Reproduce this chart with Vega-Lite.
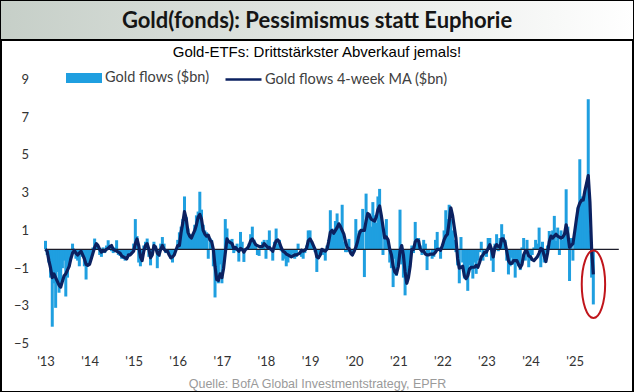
{
  "$schema": "https://vega.github.io/schema/vega-lite/v6.json",
  "padding": 0,
  "spacing": -2,
  "background": "white",
  "config": {
    "view": {"stroke": "black", "strokeWidth": 2},
    "axis": {"grid": false, "domain": false, "ticks": false, "tickSize": 0}
  },
  "resolve": {"scale": {"fill": "independent", "stroke": "independent"}, "legend": {"fill": "independent", "stroke": "independent"}},
  "datasets": {
    "g": [
      {"d":"2013-01-01","f":0.45,"m":0},{"d":"2013-01-15","f":-0.3,"m":-0.1},{"d":"2013-01-29","f":-0.7,"m":-0.6},{"d":"2013-02-12","f":-1.5,"m":-1.0},{"d":"2013-02-26","f":-4.1,"m":-1.5},{"d":"2013-03-12","f":-1.8,"m":-1.3},{"d":"2013-03-26","f":-3.1,"m":-1.5},{"d":"2013-04-09","f":-1.2,"m":-1.7},{"d":"2013-04-23","f":-2.3,"m":-1.9},{"d":"2013-05-07","f":-1.8,"m":-2.0},{"d":"2013-05-21","f":-1.0,"m":-1.7},{"d":"2013-06-04","f":-0.6,"m":-1.4},{"d":"2013-06-18","f":-2.5,"m":-1.3},{"d":"2013-07-02","f":-1.5,"m":-1.1},{"d":"2013-07-16","f":-0.8,"m":-0.9},{"d":"2013-07-30","f":-0.3,"m":-0.5},{"d":"2013-08-13","f":0.3,"m":-0.2},{"d":"2013-08-27","f":-0.2,"m":-0.05},{"d":"2013-09-10","f":-0.5,"m":-0.2},{"d":"2013-09-24","f":-0.6,"m":-0.3},{"d":"2013-10-08","f":-0.9,"m":-0.2},{"d":"2013-10-22","f":-0.2,"m":-0.1},{"d":"2013-11-05","f":-0.4,"m":-0.3},{"d":"2013-11-19","f":-0.9,"m":-0.5},{"d":"2013-12-03","f":-1.6,"m":-0.8},{"d":"2013-12-17","f":-0.9,"m":-0.85},
      {"d":"2014-01-01","f":-0.6,"m":-0.8},{"d":"2014-01-15","f":-0.3,"m":-0.5},{"d":"2014-01-29","f":0.1,"m":-0.2},{"d":"2014-02-12","f":0.57,"m":0.1},{"d":"2014-02-26","f":0.3,"m":0.3},{"d":"2014-03-12","f":0.1,"m":0.2},{"d":"2014-03-26","f":-0.3,"m":0},{"d":"2014-04-09","f":-0.4,"m":-0.15},{"d":"2014-04-23","f":0.1,"m":-0.1},{"d":"2014-05-07","f":-0.2,"m":-0.1},{"d":"2014-05-21","f":0.2,"m":0},{"d":"2014-06-04","f":0.48,"m":0.05},{"d":"2014-06-18","f":0.1,"m":0.15},{"d":"2014-07-02","f":-0.1,"m":0.2},{"d":"2014-07-16","f":-0.2,"m":0},{"d":"2014-07-30","f":0.1,"m":-0.05},{"d":"2014-08-13","f":0.48,"m":-0.1},{"d":"2014-08-27","f":-0.3,"m":-0.15},{"d":"2014-09-10","f":-0.35,"m":-0.2},{"d":"2014-09-24","f":-0.5,"m":-0.35},{"d":"2014-10-08","f":-0.5,"m":-0.4},{"d":"2014-10-22","f":-0.6,"m":-0.45},{"d":"2014-11-05","f":-0.3,"m":-0.5},{"d":"2014-11-19","f":-0.4,"m":-0.3},{"d":"2014-12-03","f":-0.2,"m":-0.3},{"d":"2014-12-17","f":-0.1,"m":-0.2},
      {"d":"2015-01-01","f":0.3,"m":-0.1},{"d":"2015-01-15","f":1.6,"m":0.3},{"d":"2015-01-29","f":0.7,"m":0.55},{"d":"2015-02-12","f":-0.7,"m":0.2},{"d":"2015-02-26","f":-0.9,"m":-0.4},{"d":"2015-03-12","f":-0.3,"m":-0.6},{"d":"2015-03-26","f":0.2,"m":-0.1},{"d":"2015-04-09","f":0.4,"m":0.2},{"d":"2015-04-23","f":0.57,"m":0.3},{"d":"2015-05-07","f":-0.4,"m":0},{"d":"2015-05-21","f":-0.85,"m":-0.45},{"d":"2015-06-04","f":0,"m":-0.3},{"d":"2015-06-18","f":0.4,"m":0.2},{"d":"2015-07-02","f":0.2,"m":0.1},{"d":"2015-07-16","f":-1.0,"m":-0.2},{"d":"2015-07-30","f":-0.4,"m":-0.3},{"d":"2015-08-13","f":0.3,"m":0},{"d":"2015-08-27","f":0.65,"m":0.2},{"d":"2015-09-10","f":0.3,"m":0},{"d":"2015-09-24","f":-0.2,"m":-0.1},{"d":"2015-10-08","f":0,"m":-0.1},{"d":"2015-10-22","f":-0.3,"m":-0.3},{"d":"2015-11-05","f":-0.5,"m":-0.45},{"d":"2015-11-19","f":-0.7,"m":-0.4},{"d":"2015-12-03","f":-0.3,"m":-0.3},{"d":"2015-12-17","f":0,"m":-0.05},
      {"d":"2016-01-01","f":0.5,"m":0.2},{"d":"2016-01-15","f":0.9,"m":0.2},{"d":"2016-01-29","f":1.2,"m":0.9},{"d":"2016-02-12","f":1.6,"m":1.4},{"d":"2016-02-26","f":2.8,"m":2.0},{"d":"2016-03-12","f":1.7,"m":1.6},{"d":"2016-03-26","f":1.1,"m":0.9},{"d":"2016-04-09","f":0.8,"m":0.7},{"d":"2016-04-23","f":0.6,"m":0.6},{"d":"2016-05-07","f":0.8,"m":0.8},{"d":"2016-05-21","f":1.3,"m":1.0},{"d":"2016-06-04","f":1.8,"m":1.3},{"d":"2016-06-18","f":2.0,"m":1.7},{"d":"2016-07-02","f":3.05,"m":1.85},{"d":"2016-07-16","f":2.1,"m":1.6},{"d":"2016-07-30","f":1.3,"m":1.0},{"d":"2016-08-13","f":1.0,"m":0.8},{"d":"2016-08-27","f":0.9,"m":0.7},{"d":"2016-09-10","f":-0.5,"m":0.75},{"d":"2016-09-24","f":0.6,"m":0.5},{"d":"2016-10-08","f":0.5,"m":0.4},{"d":"2016-10-22","f":-0.9,"m":0},{"d":"2016-11-05","f":-2.55,"m":-0.9},{"d":"2016-11-19","f":-1.6,"m":-1.6},{"d":"2016-12-03","f":-1.8,"m":-1.65},{"d":"2016-12-17","f":-0.8,"m":-1.3},
      {"d":"2017-01-01","f":-1.8,"m":-1.5},{"d":"2017-01-15","f":-0.5,"m":-1.0},{"d":"2017-01-29","f":1.6,"m":-0.2},{"d":"2017-02-12","f":1.1,"m":0.55},{"d":"2017-02-26","f":0.3,"m":0.4},{"d":"2017-03-12","f":0.5,"m":0.35},{"d":"2017-03-26","f":0.55,"m":0.3},{"d":"2017-04-09","f":-0.2,"m":0.05},{"d":"2017-04-23","f":-0.1,"m":0.1},{"d":"2017-05-07","f":0.3,"m":0},{"d":"2017-05-21","f":-0.65,"m":-0.1},{"d":"2017-06-04","f":0.92,"m":0.05},{"d":"2017-06-18","f":0.4,"m":0},{"d":"2017-07-02","f":-0.67,"m":-0.15},{"d":"2017-07-16","f":0,"m":0},{"d":"2017-07-30","f":0.1,"m":0.05},{"d":"2017-08-13","f":0.3,"m":0.2},{"d":"2017-08-27","f":0.8,"m":0.45},{"d":"2017-09-10","f":1.2,"m":0.55},{"d":"2017-09-24","f":0.5,"m":0.4},{"d":"2017-10-08","f":0.2,"m":0.25},{"d":"2017-10-22","f":-0.3,"m":0.2},{"d":"2017-11-05","f":-0.35,"m":0.15},{"d":"2017-11-19","f":0.1,"m":0.15},{"d":"2017-12-03","f":0.4,"m":0.15},{"d":"2017-12-17","f":0.5,"m":0.3},
      {"d":"2018-01-01","f":-0.5,"m":0.2},{"d":"2018-01-15","f":0.5,"m":0.1},{"d":"2018-01-29","f":1.0,"m":0.1},{"d":"2018-02-12","f":-0.1,"m":0},{"d":"2018-02-26","f":-0.6,"m":-0.1},{"d":"2018-03-12","f":0.4,"m":0.2},{"d":"2018-03-26","f":1.1,"m":0.45},{"d":"2018-04-09","f":0.3,"m":0.5},{"d":"2018-04-23","f":0.5,"m":0.35},{"d":"2018-05-07","f":-0.1,"m":0.1},{"d":"2018-05-21","f":-0.6,"m":-0.1},{"d":"2018-06-04","f":-0.5,"m":-0.15},{"d":"2018-06-18","f":-0.9,"m":-0.25},{"d":"2018-07-02","f":-0.7,"m":-0.3},{"d":"2018-07-16","f":-0.4,"m":-0.35},{"d":"2018-07-30","f":-0.3,"m":-0.4},{"d":"2018-08-13","f":-0.2,"m":-0.35},{"d":"2018-08-27","f":-0.5,"m":-0.3},{"d":"2018-09-10","f":-0.4,"m":-0.3},{"d":"2018-09-24","f":0.3,"m":-0.25},{"d":"2018-10-08","f":0,"m":-0.2},{"d":"2018-10-22","f":-0.4,"m":-0.05},{"d":"2018-11-05","f":-0.5,"m":-0.1},{"d":"2018-11-19","f":-0.2,"m":-0.05},{"d":"2018-12-03","f":0.2,"m":0.05},{"d":"2018-12-17","f":1.0,"m":0.45},
      {"d":"2019-01-01","f":1.0,"m":0.55},{"d":"2019-01-15","f":0.3,"m":0.4},{"d":"2019-01-29","f":0.1,"m":0.2},{"d":"2019-02-12","f":-0.15,"m":0},{"d":"2019-02-26","f":-1.2,"m":-0.4},{"d":"2019-03-12","f":-0.5,"m":-0.45},{"d":"2019-03-26","f":-0.3,"m":-0.3},{"d":"2019-04-09","f":-0.15,"m":0},{"d":"2019-04-23","f":-0.3,"m":-0.05},{"d":"2019-05-07","f":-0.6,"m":-0.1},{"d":"2019-05-21","f":0.2,"m":0},{"d":"2019-06-04","f":0.5,"m":0.4},{"d":"2019-06-18","f":2.07,"m":0.9},{"d":"2019-07-02","f":1.1,"m":1.0},{"d":"2019-07-16","f":0.8,"m":0.85},{"d":"2019-07-30","f":1.5,"m":1.0},{"d":"2019-08-13","f":1.9,"m":1.15},{"d":"2019-08-27","f":1.2,"m":1.35},{"d":"2019-09-10","f":1.2,"m":1.2},{"d":"2019-09-24","f":2.36,"m":1.0},{"d":"2019-10-08","f":0.4,"m":0.8},{"d":"2019-10-22","f":-0.15,"m":0.4},{"d":"2019-11-05","f":-0.15,"m":0.1},{"d":"2019-11-19","f":0.55,"m":0.05},{"d":"2019-12-03","f":0,"m":-0.2},{"d":"2019-12-17","f":-0.35,"m":-0.3},
      {"d":"2020-01-01","f":-0.15,"m":-0.1},{"d":"2020-01-15","f":1.6,"m":0.1},{"d":"2020-01-29","f":0.5,"m":0.4},{"d":"2020-02-12","f":1.0,"m":0.8},{"d":"2020-02-26","f":1.0,"m":1.0},{"d":"2020-03-12","f":2.14,"m":1.0},{"d":"2020-03-26","f":-1.47,"m":1.0},{"d":"2020-04-09","f":2.95,"m":1.5},{"d":"2020-04-23","f":1.6,"m":1.9},{"d":"2020-05-07","f":1.9,"m":1.8},{"d":"2020-05-21","f":1.2,"m":1.6},{"d":"2020-06-04","f":2.5,"m":1.55},{"d":"2020-06-18","f":1.8,"m":1.5},{"d":"2020-07-02","f":1.4,"m":1.7},{"d":"2020-07-16","f":2.8,"m":2.1},{"d":"2020-07-30","f":3.2,"m":2.3},{"d":"2020-08-13","f":1.6,"m":1.8},{"d":"2020-08-27","f":-0.3,"m":1.2},{"d":"2020-09-10","f":0.9,"m":0.6},{"d":"2020-09-24","f":1.6,"m":0.65},{"d":"2020-10-08","f":0.4,"m":0.5},{"d":"2020-10-22","f":-0.7,"m":0},{"d":"2020-11-05","f":-1.0,"m":-0.3},{"d":"2020-11-19","f":-2.0,"m":-0.9},{"d":"2020-12-03","f":-0.5,"m":-1.2},{"d":"2020-12-17","f":-1.4,"m":-1.3},
      {"d":"2021-01-01","f":-0.9,"m":-0.9},{"d":"2021-01-15","f":2.1,"m":-0.1},{"d":"2021-01-29","f":-0.8,"m":0.2},{"d":"2021-02-12","f":-1.5,"m":-0.3},{"d":"2021-02-26","f":-2.44,"m":-1.2},{"d":"2021-03-12","f":-1.6,"m":-1.8},{"d":"2021-03-26","f":-1.5,"m":-1.5},{"d":"2021-04-09","f":-0.7,"m":-0.9},{"d":"2021-04-23","f":0.2,"m":0},{"d":"2021-05-07","f":-0.2,"m":0},{"d":"2021-05-21","f":1.45,"m":0.4},{"d":"2021-06-04","f":0.5,"m":0.5},{"d":"2021-06-18","f":0.6,"m":0.45},{"d":"2021-07-02","f":0.2,"m":0},{"d":"2021-07-16","f":-0.3,"m":-0.1},{"d":"2021-07-30","f":0.5,"m":-0.1},{"d":"2021-08-13","f":0.3,"m":-0.25},{"d":"2021-08-27","f":-1.1,"m":-0.3},{"d":"2021-09-10","f":-0.2,"m":-0.3},{"d":"2021-09-24","f":0,"m":-0.25},{"d":"2021-10-08","f":-0.5,"m":-0.25},{"d":"2021-10-22","f":-0.4,"m":-0.25},{"d":"2021-11-05","f":0.5,"m":-0.15},{"d":"2021-11-19","f":0.92,"m":0},{"d":"2021-12-03","f":0.1,"m":0},{"d":"2021-12-17","f":-0.5,"m":-0.05},
      {"d":"2022-01-01","f":0.2,"m":0.2},{"d":"2022-01-15","f":1.0,"m":0.5},{"d":"2022-01-29","f":2.07,"m":0.7},{"d":"2022-02-12","f":1.6,"m":0.8},{"d":"2022-02-26","f":2.36,"m":1.45},{"d":"2022-03-12","f":1.6,"m":2.2},{"d":"2022-03-26","f":1.0,"m":1.8},{"d":"2022-04-09","f":0.5,"m":1.2},{"d":"2022-04-23","f":-0.15,"m":0.6},{"d":"2022-05-07","f":-0.85,"m":-0.5},{"d":"2022-05-21","f":-1.8,"m":-1.0},{"d":"2022-06-04","f":0.65,"m":-0.95},{"d":"2022-06-18","f":-0.7,"m":-0.9},{"d":"2022-07-02","f":-1.55,"m":-1.4},{"d":"2022-07-16","f":-1.55,"m":-1.55},{"d":"2022-07-30","f":-2.2,"m":-1.4},{"d":"2022-08-13","f":-0.85,"m":-1.05},{"d":"2022-08-27","f":-1.1,"m":-0.95},{"d":"2022-09-10","f":-1.55,"m":-0.95},{"d":"2022-09-24","f":-0.7,"m":-0.95},{"d":"2022-10-08","f":-1.3,"m":-0.85},{"d":"2022-10-22","f":-0.6,"m":-0.95},{"d":"2022-11-05","f":-0.15,"m":-0.7},{"d":"2022-11-19","f":0.4,"m":-0.4},{"d":"2022-12-03","f":-0.6,"m":-0.3},{"d":"2022-12-17","f":0,"m":-0.15},
      {"d":"2023-01-01","f":-0.4,"m":-0.15},{"d":"2023-01-15","f":0.6,"m":0.05},{"d":"2023-01-29","f":0.6,"m":0.25},{"d":"2023-02-12","f":-0.6,"m":0},{"d":"2023-02-26","f":-1.2,"m":-0.4},{"d":"2023-03-12","f":0.3,"m":0.1},{"d":"2023-03-26","f":0.8,"m":0.25},{"d":"2023-04-09","f":-0.1,"m":0.15},{"d":"2023-04-23","f":0.6,"m":0.1},{"d":"2023-05-07","f":1.33,"m":0.55},{"d":"2023-05-21","f":0.8,"m":0.55},{"d":"2023-06-04","f":0.5,"m":0.35},{"d":"2023-06-18","f":-0.6,"m":-0.1},{"d":"2023-07-02","f":-1.33,"m":-0.6},{"d":"2023-07-16","f":-0.9,"m":-0.75},{"d":"2023-07-30","f":-0.45,"m":-0.75},{"d":"2023-08-13","f":-0.8,"m":-0.6},{"d":"2023-08-27","f":-1.5,"m":-0.6},{"d":"2023-09-10","f":-0.6,"m":-0.6},{"d":"2023-09-24","f":-0.9,"m":-0.8},{"d":"2023-10-08","f":-1.1,"m":-0.97},{"d":"2023-10-22","f":0.1,"m":-0.8},{"d":"2023-11-05","f":0.6,"m":-0.3},{"d":"2023-11-19","f":-0.6,"m":-0.1},{"d":"2023-12-03","f":0.5,"m":-0.1},{"d":"2023-12-17","f":-0.95,"m":-0.35},
      {"d":"2024-01-01","f":-0.6,"m":-0.4},{"d":"2024-01-15","f":-0.3,"m":-0.55},{"d":"2024-01-29","f":0.1,"m":-0.6},{"d":"2024-02-12","f":0.5,"m":-0.5},{"d":"2024-02-26","f":0.3,"m":-0.4},{"d":"2024-03-12","f":1.15,"m":-0.2},{"d":"2024-03-26","f":-0.95,"m":0.05},{"d":"2024-04-09","f":0.4,"m":0},{"d":"2024-04-23","f":-0.7,"m":-0.35},{"d":"2024-05-07","f":-0.3,"m":-0.65},{"d":"2024-05-21","f":0.2,"m":-0.2},{"d":"2024-06-04","f":0.97,"m":0.4},{"d":"2024-06-18","f":0.6,"m":0.7},{"d":"2024-07-02","f":1.0,"m":0.6},{"d":"2024-07-16","f":1.77,"m":0.7},{"d":"2024-07-30","f":0.45,"m":0.8},{"d":"2024-08-13","f":1.15,"m":0.7},{"d":"2024-08-27","f":-0.3,"m":0.65},{"d":"2024-09-10","f":1.0,"m":0.6},{"d":"2024-09-24","f":0.5,"m":0.65},{"d":"2024-10-08","f":0.8,"m":0.8},{"d":"2024-10-22","f":3.18,"m":1.3},{"d":"2024-11-05","f":1.2,"m":0.8},{"d":"2024-11-19","f":-1.68,"m":0.1},{"d":"2024-12-03","f":0.6,"m":0.2},{"d":"2024-12-17","f":-0.6,"m":0.3},
      {"d":"2025-01-01","f":0.6,"m":0.95},{"d":"2025-01-15","f":1.4,"m":1.6},{"d":"2025-01-29","f":2.2,"m":2.2},{"d":"2025-02-12","f":4.77,"m":2.45},{"d":"2025-02-26","f":2.8,"m":2.6},{"d":"2025-03-12","f":2.5,"m":2.6},{"d":"2025-03-26","f":3.0,"m":3.1},{"d":"2025-04-09","f":3.5,"m":3.5},{"d":"2025-04-23","f":7.95,"m":3.9},{"d":"2025-05-07","f":1.0,"m":2.5},{"d":"2025-05-21","f":-1.5,"m":0},{"d":"2025-06-04","f":-2.92,"m":-1.33}
    ]
  },
  "vconcat": [
    {
      "width": 632,
      "height": 38,
      "data": {"values": [{"t": "Gold(fonds): Pessimismus statt Euphorie"}]},
      "layer": [
        {
          "mark": {"type": "rect", "color": {"gradient": "linear", "x1": 0, "y1": 0, "x2": 1, "y2": 0, "stops": [{"offset": 0, "color": "#c6cfc8"}, {"offset": 0.5, "color": "#e2e6e2"}, {"offset": 1, "color": "#ffffff"}]}},
          "encoding": {"x": {"value": 0}, "x2": {"value": "width"}, "y": {"value": 0}, "y2": {"value": "height"}}
        },
        {
          "mark": {"type": "text", "font": "Lato", "fontSize": 22, "fontWeight": "bold", "color": "#151515", "align": "center", "baseline": "middle"},
          "encoding": {
            "text": {"field": "t"},
            "x": {"datum": 0.5, "type": "quantitative", "scale": {"domain": [0, 1], "nice": false, "zero": false}, "axis": null},
            "y": {"datum": 0.47, "type": "quantitative", "scale": {"domain": [0, 1], "nice": false, "zero": false}, "axis": null}
          }
        }
      ]
    },
    {
      "width": 632,
      "height": 352,
      "layer": [
        {
          "data": {"name": "g"},
          "mark": {"type": "bar", "size": 3},
          "encoding": {
            "x": {"field": "d", "type": "temporal",
              "scale": {"type": "utc", "domain": [{"year": 2013, "month": 1, "date": 1, "utc": true}, {"year": 2026, "month": 1, "date": 1, "utc": true}], "range": [44.5, 617.8], "padding": 0},
              "axis": {"values": [{"year": 2013, "utc": true}, {"year": 2014, "utc": true}, {"year": 2015, "utc": true}, {"year": 2016, "utc": true}, {"year": 2017, "utc": true}, {"year": 2018, "utc": true}, {"year": 2019, "utc": true}, {"year": 2020, "utc": true}, {"year": 2021, "utc": true}, {"year": 2022, "utc": true}, {"year": 2023, "utc": true}, {"year": 2024, "utc": true}, {"year": 2025, "utc": true}],
                "labelExpr": "\"'\" + utcFormat(datum.value, '%y')", "offset": -37, "labelPadding": 0, "labelBaseline": "top", "labelFont": "Lato", "labelFontSize": 13, "labelColor": "#333333", "labelFlush": false, "labelOverlap": false,
                "title": "Quelle: BofA Global Investmentstrategy, EPFR", "titleFont": "Liberation Sans", "titleFontSize": 12.5, "titleFontWeight": "normal", "titleColor": "#9a9a9a", "titleX": 316, "titleY": 28, "titleBaseline": "middle", "titleAlign": "center", "titleAngle": 0}
            },
            "y": {"field": "f", "type": "quantitative",
              "scale": {"domain": [-5, 9], "range": [303.7, 39.4], "nice": false, "zero": false, "padding": 0},
              "axis": {"values": [-5, -3, -1, 1, 3, 5, 7, 9], "title": null, "offset": -31.5, "labelPadding": 4, "labelFont": "Lato", "labelFontSize": 13, "labelColor": "#333333", "labelFlush": false, "labelOverlap": false}
            },
            "y2": {"datum": 0},
            "fill": {"datum": "Gold flows ($bn)", "scale": {"range": ["#1f9fe0"]},
              "legend": {"title": null, "orient": "none", "legendX": 65, "legendY": 20, "direction": "horizontal", "padding": 0, "symbolType": "M-1,-0.28H1V0.28H-1Z", "symbolSize": 1296, "symbolStrokeWidth": 0, "labelFont": "Lato", "labelFontSize": 14.5, "labelColor": "#404040", "labelOffset": 3, "labelLimit": 300}}
          }
        },
        {
          "data": {"values": [{}]},
          "mark": {"type": "rule", "color": "#1c1c2a", "strokeWidth": 1.3},
          "encoding": {
            "x": {"datum": {"year": 2013, "month": 1, "date": 1, "utc": true}, "type": "temporal"},
            "x2": {"datum": {"year": 2026, "month": 1, "date": 1, "utc": true}},
            "y": {"datum": 0, "type": "quantitative"}
          }
        },
        {
          "data": {"name": "g"},
          "mark": {"type": "line", "strokeWidth": 3.2, "strokeJoin": "round"},
          "encoding": {
            "x": {"field": "d", "type": "temporal"},
            "y": {"field": "m", "type": "quantitative"},
            "stroke": {"datum": "Gold flows 4-week MA ($bn)", "scale": {"range": ["#0b2160"]},
              "legend": {"title": null, "orient": "none", "legendX": 223, "legendY": 20, "direction": "horizontal", "padding": 0, "symbolType": "stroke", "symbolSize": 1296, "symbolStrokeWidth": 2.5, "labelFont": "Lato", "labelFontSize": 14.5, "labelColor": "#404040", "labelOffset": 2, "labelLimit": 300}}
          }
        },
        {
          "data": {"values": [{}]},
          "mark": {"type": "point", "shape": "M0,-1C0.1916,-1,0.347,-0.5523,0.347,0C0.347,0.5523,0.1916,1,0,1C-0.1916,1,-0.347,0.5523,-0.347,0C-0.347,-0.5523,-0.1916,-1,0,-1Z", "size": 4543, "filled": false, "stroke": "#c0151b", "strokeWidth": 2, "opacity": 1},
          "encoding": {
            "x": {"datum": {"year": 2025, "month": 6, "date": 5, "utc": true}, "type": "temporal"},
            "y": {"datum": -1.85, "type": "quantitative"}
          }
        },
        {
          "data": {"values": [{"s": "Gold-ETFs: Drittstärkster Abverkauf jemals!"}]},
          "mark": {"type": "text", "font": "Liberation Sans", "fontSize": 15, "color": "#000000", "align": "center", "baseline": "middle"},
          "encoding": {
            "text": {"field": "s"},
            "x": {"datum": {"year": 2019, "month": 2, "date": 27, "utc": true}, "type": "temporal"},
            "y": {"datum": 10.45, "type": "quantitative"}
          }
        }
      ]
    }
  ]
}
